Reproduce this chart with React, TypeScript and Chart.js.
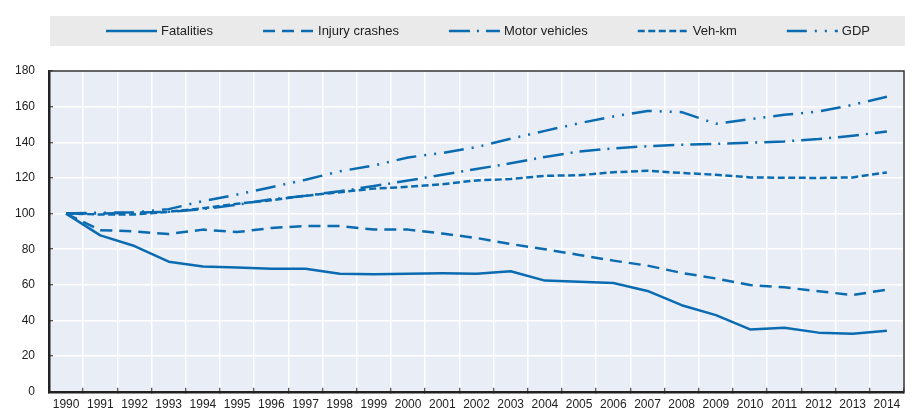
import React, { useEffect, useRef } from "react";
import { Chart, registerables } from "chart.js";

Chart.register(...registerables);

// Index, 1990 = 100
const years = [
  "1990", "1991", "1992", "1993", "1994", "1995", "1996", "1997", "1998",
  "1999", "2000", "2001", "2002", "2003", "2004", "2005", "2006", "2007",
  "2008", "2009", "2010", "2011", "2012", "2013", "2014",
];

const fatalities = [
  100, 87.8, 81.8, 73, 70.3, 69.7, 69.1, 69.1, 66.3, 66, 66.3, 66.5, 66.3,
  67.6, 62.4, 61.7, 61, 56.6, 48.6, 43, 35, 36, 33.2, 32.6, 34.2,
];
const injuryCrashes = [
  100, 90.7, 90, 88.5, 91, 89.6, 91.9, 93, 93, 91, 91, 88.8, 86.3, 82.9,
  80, 76.8, 73.6, 70.8, 66.7, 63.6, 59.9, 58.6, 56.4, 54.3, 57.3,
];
const motorVehicles = [
  100, 100, 100.5, 101, 102.5, 105, 108, 110, 112.5, 115.5, 118.5, 121.8,
  125, 128.2, 131.8, 134.8, 136.6, 137.8, 138.6, 139.1, 139.8, 140.5, 141.8,
  143.7, 146,
];
const vehKm = [
  100, 99.5, 99.5, 101, 103, 105.5, 107.5, 110, 112, 114, 115, 116.5, 118.6,
  119.4, 121.2, 121.5, 123.2, 124, 122.8, 121.8, 120.3, 120.1, 120, 120.3,
  123.1,
];
const gdp = [
  100, 100.5, 100.6, 102.5, 107, 110.7, 114.8, 119, 123.7, 127, 131.5, 134,
  137.3, 142, 146.4, 150.7, 154.5, 157.6, 156.9, 150.4, 153, 155.4, 157.3,
  161, 165.6,
];

const seriesNames = ["Fatalities", "Injury crashes", "Motor vehicles", "Veh-km", "GDP"];
const seriesValues = [fatalities, injuryCrashes, motorVehicles, vehKm, gdp];
const seriesDashes: number[][] = [
  [],
  [12, 7],
  [21, 7, 2, 7],
  [7, 3.5],
  [20, 8, 2, 8, 2, 8],
];

const BLUE = "#0b6bb1";
const INK = "#222222";
const FONT = "'Liberation Sans', Arial, Helvetica, sans-serif";

// background of plot area, box of the legend, top/right frame
const decor = {
  id: "decor",
  beforeDraw(chart: any) {
    const { ctx, chartArea } = chart;
    ctx.save();
    ctx.fillStyle = "#e8edf6";
    ctx.fillRect(chartArea.left, chartArea.top, chartArea.right - chartArea.left, chartArea.bottom - chartArea.top);
    ctx.restore();
  },
  afterDraw(chart: any) {
    const { ctx, chartArea } = chart;
    ctx.save();

    // frame
    ctx.strokeStyle = "#333333";
    ctx.lineWidth = 1.5;
    ctx.beginPath();
    ctx.moveTo(chartArea.left, chartArea.top);
    ctx.lineTo(chartArea.right, chartArea.top);
    ctx.lineTo(chartArea.right, chartArea.bottom);
    ctx.stroke();

    // legend
    const boxTop = 16;
    const boxH = 30;
    const midY = boxTop + boxH / 2;
    ctx.fillStyle = "#eaeaea";
    ctx.fillRect(chartArea.left + 1, boxTop, chartArea.right - chartArea.left, boxH);

    ctx.font = `13px ${FONT}`;
    const swatch = 51;
    const textGap = 4;
    const itemGap = 50;
    const items = chart.data.datasets.map((ds: any) => ({
      label: ds.label as string,
      dash: (ds.borderDash || []) as number[],
      w: ctx.measureText(ds.label).width,
    }));
    const total =
      items.reduce((s: number, it: any) => s + swatch + textGap + it.w, 0) +
      itemGap * (items.length - 1);
    let x = 488 - total / 2;
    items.forEach((it: any) => {
      ctx.setLineDash(it.dash);
      ctx.lineWidth = 2.5;
      ctx.lineCap = "butt";
      ctx.strokeStyle = BLUE;
      ctx.beginPath();
      ctx.moveTo(x, midY);
      ctx.lineTo(x + swatch, midY);
      ctx.stroke();
      ctx.setLineDash([]);
      ctx.fillStyle = INK;
      ctx.textBaseline = "middle";
      ctx.textAlign = "left";
      ctx.fillText(it.label, x + swatch + textGap, midY);
      x += swatch + textGap + it.w + itemGap;
    });
    ctx.restore();
  },
};

const App: React.FC = () => {
  const canvasRef = useRef<HTMLCanvasElement | null>(null);

  useEffect(() => {
    if (!canvasRef.current) return;
    const chart = new Chart(canvasRef.current, {
      type: "line",
      data: {
        labels: years,
        datasets: seriesNames.map((name, i) => ({
          label: name,
          data: seriesValues[i],
          borderColor: BLUE,
          backgroundColor: BLUE,
          borderWidth: 2.5,
          borderDash: seriesDashes[i],
          borderCapStyle: "butt",
          borderJoinStyle: "round",
          pointRadius: 0,
          tension: 0,
          fill: false,
        })),
      },
      options: {
        animation: false,
        responsive: true,
        maintainAspectRatio: false,
        events: [],
        layout: { padding: { top: 71, right: 12, bottom: 0, left: 0 } },
        plugins: {
          legend: { display: false },
          tooltip: { enabled: false },
        },
        scales: {
          x: {
            offset: true,
            ticks: {
              color: INK,
              font: { family: FONT, size: 12 },
              padding: 10,
              maxRotation: 0,
              autoSkip: false,
            },
            grid: {
              offset: true,
              color: "#ffffff",
              lineWidth: 1.5,
              tickLength: -4,
              tickColor: INK,
              tickWidth: 1,
            },
            border: { color: INK, width: 2.5 },
            afterFit: (s: any) => {
              s.height = 24;
            },
          },
          y: {
            min: 0,
            max: 180,
            ticks: {
              stepSize: 20,
              color: INK,
              font: { family: FONT, size: 12 },
              padding: 18,
            },
            grid: {
              color: "#ffffff",
              lineWidth: 1.5,
              tickLength: -4,
              tickColor: INK,
              tickWidth: 1,
            },
            border: { color: INK, width: 2.5 },
            afterFit: (s: any) => {
              s.width = 49;
            },
          },
        },
      },
      plugins: [decor],
    });

    return () => {
      chart.destroy();
    };
  }, []);

  return (
    <div style={{ position: "absolute", left: 0, top: 0, width: 916, height: 417, background: "#ffffff" }}>
      <canvas ref={canvasRef}></canvas>
    </div>
  );
};

export default App;
